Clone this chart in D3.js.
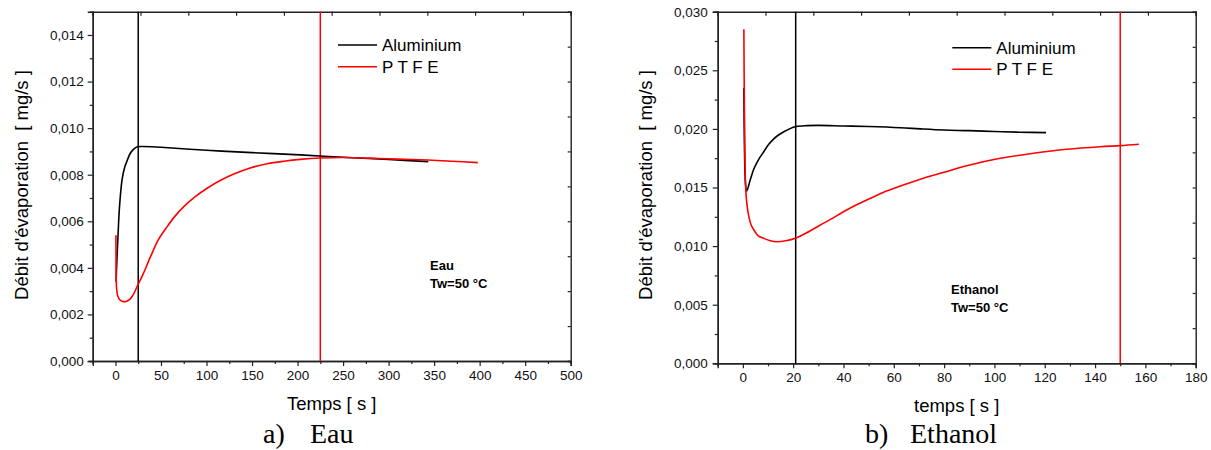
<!DOCTYPE html>
<html><head><meta charset="utf-8">
<script src="https://cdn.jsdelivr.net/npm/d3@7"></script>
<style>
html,body{margin:0;padding:0;background:#fff;}
svg{display:block;}
text{white-space:pre;}
</style></head>
<body>
<svg id="chart" width="1211" height="450"></svg>
<script>
// ---- Panel a) Eau ----
const eauAlT = [0.7,1.5,2.6,4.4,7.3,10,12.8,16,20,24,30,40,50,100,150,203,250,300,343.6];
const eauAlV = [0.0034,0.0043,0.0052,0.0066,0.0078,0.0083,0.0086,0.0089,0.0091,0.0092,0.00921,0.0092,0.00918,0.00905,0.00895,0.00885,0.00875,0.00865,0.00856];
const eauPtfeT = [0.5,0.6,0.8,1.3,2.6,5,8,11,14,17,20,24.5,30,38.5,47,56.8,65,75,88,100.7,115,130,148,166.7,185,203,225,250,280,310,343.6,370,398];
const eauPtfeV = [0.0054,0.0045,0.0036,0.0031,0.00278,0.00262,0.00256,0.00255,0.0026,0.0027,0.00288,0.00326,0.0037,0.00448,0.0052,0.00577,0.0062,0.00663,0.00707,0.00742,0.00775,0.00803,0.00829,0.00847,0.00858,0.00866,0.00872,0.00874,0.00871,0.00867,0.00863,0.00858,0.00852];
const eauMarkers = [25,225];
const eauXTicks = [0,50,100,150,200,250,300,350,400,450,500];
const eauYTicks = [0,0.002,0.004,0.006,0.008,0.010,0.012,0.014];

// ---- Panel b) Ethanol ----
const ethAlT = [0.4,0.6,1,1.5,3,4.4,6.3,8.3,10.3,12.3,14.3,16.3,18.5,21.2,25.5,30,40,50,62.6,70.5,80,90,100,110,120.5];
const ethAlV = [0.0235,0.019,0.0155,0.0147,0.0157,0.0166,0.0174,0.01805,0.01868,0.01915,0.0195,0.01976,0.0200,0.0202,0.02028,0.0203,0.02025,0.0202,0.0201,0.0200,0.0199,0.01985,0.01978,0.01972,0.01968];
const ethPtfeT = [0.4,0.6,0.8,1.1,1.6,2.4,3.3,4.4,6,8.3,11,13.6,17,21.2,25,30.8,35,40,45,50.7,56,61.3,70.5,80,89,102.3,115.5,128.7,142,150,157.4];
const ethPtfeV = [0.0285,0.022,0.018,0.0151,0.0136,0.0125,0.0118,0.01137,0.0109,0.01066,0.01045,0.01037,0.01045,0.0107,0.0111,0.0118,0.0123,0.01293,0.0135,0.01408,0.0146,0.01502,0.0157,0.0163,0.01686,0.01749,0.01792,0.01826,0.01848,0.01857,0.01869];
const ethMarkers = [21,150];
const ethXTicks = [0,20,40,60,80,100,120,140,160,180];
const ethYTicks = [0,0.005,0.010,0.015,0.020,0.025,0.030];

const seriesNames = ["Aluminium","P T F E"];
const seriesColors = ["#000000","#ff0000"];

const svg = d3.select("#chart");
const comma = v => d3.format(".3f")(v).replace(".", ",");
const SANS = "'Liberation Sans', Arial, sans-serif";
const SERIF = "'Liberation Serif', 'Times New Roman', serif";

function panel(cfg){
  const x = d3.scaleLinear().domain(cfg.xDom).range(cfg.xR);
  const y = d3.scaleLinear().domain(cfg.yDom).range(cfg.yR);
  const g = svg.append("g");
  const axisColor = "#222";

  g.append("g").attr("transform",`translate(0,${cfg.yR[0]})`)
    .call(d3.axisBottom(x).tickValues(cfg.xMinor).tickSize(3).tickFormat(""));
  g.append("g").attr("transform",`translate(${cfg.xR[0]},0)`)
    .call(d3.axisLeft(y).tickValues(cfg.yMinor).tickSize(3).tickFormat(""));
  g.append("g").attr("transform",`translate(0,${cfg.yR[0]})`)
    .call(d3.axisBottom(x).tickValues(cfg.xTicks).tickSize(5).tickPadding(4).tickFormat(d3.format("d")));
  g.append("g").attr("transform",`translate(${cfg.xR[0]},0)`)
    .call(d3.axisLeft(y).tickValues(cfg.yTicks).tickSize(5).tickPadding(cfg.yPad).tickFormat(comma));
  const xd = cfg.xDom, yd = cfg.yDom;
  g.append("g").attr("transform",`translate(0,${cfg.yR[1]})`)
    .call(d3.axisTop(x).tickValues(d3.range(11).map(i=>xd[0]+i*(xd[1]-xd[0])/10)).tickSize(-4).tickFormat(""));
  g.append("g").attr("transform",`translate(${cfg.xR[1]},0)`)
    .call(d3.axisRight(y).tickValues(d3.range(11).map(i=>yd[0]+i*(yd[1]-yd[0])/10)).tickSize(-3).tickFormat(""));

  g.selectAll(".domain").attr("stroke",axisColor).attr("stroke-width",1.4);
  g.selectAll(".tick line").attr("stroke",axisColor).attr("stroke-width",1.2);
  g.selectAll(".tick text").style("font-family",SANS).style("font-size","13.5px").attr("fill","#111");

  cfg.markers.forEach((m,i)=>{
    g.append("line").attr("x1",x(m)).attr("x2",x(m)).attr("y1",y(yd[0])).attr("y2",y(yd[1]))
      .attr("stroke",seriesColors[i]).attr("stroke-width",1.5);
  });

  const line = d3.line().x(d=>x(d[0])).y(d=>y(d[1])).curve(d3.curveCatmullRom.alpha(0.5));
  cfg.series.forEach((s,i)=>{
    const pts = s.t.map((t,k)=>[t,s.v[k]]);
    g.append("path").datum(pts).attr("d",line).attr("fill","none")
      .attr("stroke",seriesColors[i]).attr("stroke-width",1.6);
  });

  seriesNames.forEach((n,i)=>{
    const ly = cfg.legY + i*cfg.legDy;
    g.append("line").attr("x1",cfg.legX).attr("x2",cfg.legX+39).attr("y1",ly).attr("y2",ly)
      .attr("stroke",seriesColors[i]).attr("stroke-width",1.6);
    g.append("text").attr("x",cfg.legX+44).attr("y",ly+6).style("font-family",SANS).style("font-size","17px").attr("fill","#000").text(n);
  });

  cfg.note.forEach((t,i)=>{
    g.append("text").attr("x",cfg.noteX).attr("y",cfg.noteY+i*18).style("font-family",SANS).style("font-size","13px")
      .style("font-weight","bold").attr("fill","#000").text(t);
  });

  g.append("text").attr("x",(cfg.xR[0]+cfg.xR[1])/2).attr("y",cfg.xTitleY).attr("text-anchor","middle")
    .style("font-family",SANS).style("font-size","18.5px").attr("fill","#000").text(cfg.xTitle);
  g.append("text").attr("transform",`translate(${cfg.yTitleX},185) rotate(-90)`).attr("text-anchor","middle")
    .style("font-family",SANS).style("font-size","18.5px").attr("fill","#000").text("Débit d'évaporation  [ mg/s ]");

  cfg.cap.forEach((c,i)=>{
    g.append("text").attr("x",cfg.capX[i]).attr("y",443).style("font-family",SERIF)
      .style("font-size","28px").attr("fill","#000").text(c);
  });
}

panel({
  xDom:[-25,500], xR:[92.7,570.7], yDom:[0,0.015], yR:[361,11.7],
  xTicks:eauXTicks, yTicks:eauYTicks,
  xMinor:d3.range(-25,500,50), yMinor:d3.range(0.001,0.015,0.002),
  yPad:4,
  markers:eauMarkers,
  series:[{t:eauAlT,v:eauAlV},{t:eauPtfeT,v:eauPtfeV}],
  legX:338, legY:45, legDy:21.7,
  note:["Eau","Tw=50 °C"], noteX:430, noteY:269.5,
  xTitle:"Temps [ s ]", xTitleY:410, yTitleX:28,
  cap:["a)","Eau"], capX:[263,310]
});

panel({
  xDom:[-10,180], xR:[717.7,1195.7], yDom:[0,0.030], yR:[363.3,11.7],
  xTicks:ethXTicks, yTicks:ethYTicks,
  xMinor:d3.range(-10,180,20), yMinor:d3.range(0.0025,0.030,0.005),
  yPad:5,
  markers:ethMarkers,
  series:[{t:ethAlT,v:ethAlV},{t:ethPtfeT,v:ethPtfeV}],
  legX:952.3, legY:47.7, legDy:21.6,
  note:["Ethanol","Tw=50 °C"], noteX:951, noteY:294.3,
  xTitle:"temps [ s ]", xTitleY:411.5, yTitleX:652,
  cap:["b)","Ethanol"], capX:[865,910]
});
</script>
</body></html>
